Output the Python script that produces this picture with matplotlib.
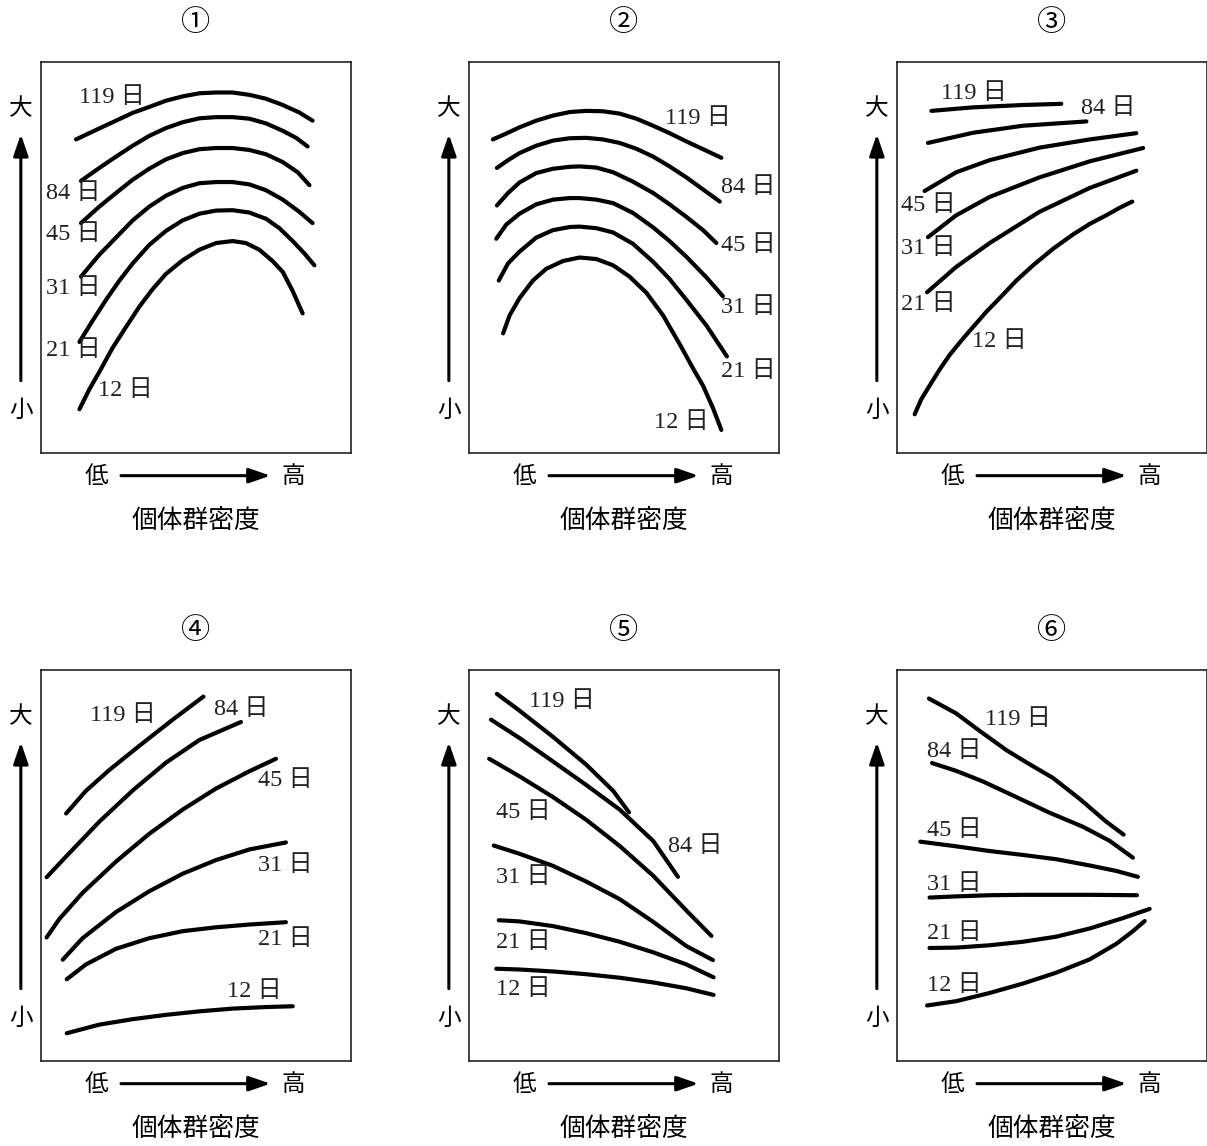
import numpy as np
import matplotlib
matplotlib.use('Agg')
import matplotlib.pyplot as plt

# =============================================================================
# Data (density 0-100 on x, size 0-100 on y)
# =============================================================================
days = ['119', '84', '45', '31', '21', '12']
panel_marks = ['①', '②', '③', '④', '⑤', '⑥']

# ① growth peaks at middle density
p1_x = [[11.3, 17.7, 24.2, 29.6, 34.9, 40.3, 45.7, 51.1, 56.5, 61.8, 67.2, 72.6, 78.0, 83.3, 87.6],
        [12.9, 18.8, 24.2, 29.6, 34.9, 40.3, 45.7, 51.1, 56.5, 61.8, 67.2, 72.6, 78.0, 82.3, 86.0],
        [12.9, 18.8, 24.2, 29.6, 34.9, 40.3, 45.7, 51.1, 56.5, 61.8, 67.2, 72.6, 78.0, 82.8, 86.6],
        [12.9, 18.8, 24.2, 29.6, 34.9, 40.3, 45.7, 51.1, 56.5, 61.8, 67.2, 72.6, 78.0, 83.3, 87.6],
        [12.4, 16.7, 21.0, 25.3, 29.6, 34.9, 40.3, 45.7, 51.1, 56.5, 61.8, 67.2, 72.6, 76.9, 81.2, 84.9, 88.2],
        [12.4, 15.6, 18.8, 23.1, 27.4, 31.7, 36.0, 40.3, 45.7, 51.1, 56.5, 61.8, 66.1, 70.4, 74.7, 78.0, 81.2, 84.4]]
p1_y = [[80.2, 82.6, 85.0, 87.0, 88.5, 90.1, 91.2, 92.0, 92.2, 92.2, 91.6, 90.6, 89.0, 87.1, 85.0],
        [69.6, 72.9, 75.8, 78.6, 81.1, 83.1, 84.6, 85.6, 85.9, 85.9, 85.5, 84.3, 82.4, 80.6, 78.4],
        [58.8, 63.0, 66.5, 69.9, 72.7, 75.1, 76.7, 77.7, 78.0, 78.0, 77.5, 76.4, 74.4, 71.8, 68.5],
        [45.1, 50.7, 55.1, 59.5, 63.0, 65.8, 67.8, 69.0, 69.3, 69.3, 68.7, 67.2, 64.8, 61.7, 58.8],
        [28.4, 33.9, 39.2, 44.1, 48.5, 53.2, 56.8, 59.5, 61.2, 62.0, 62.1, 61.5, 59.9, 57.5, 54.2, 51.1, 48.0],
        [11.2, 16.3, 20.7, 26.9, 32.2, 37.4, 41.9, 45.8, 49.3, 52.0, 53.7, 54.2, 53.7, 52.0, 49.1, 46.3, 41.4, 35.7]]
p1_lab = [(22.8, 91.0), (10.4, 66.3), (10.4, 55.8), (10.4, 42.1), (10.4, 26.3), (27.1, 16.1)]

# ②
p2_x = [[7.7, 12.0, 16.3, 21.7, 27.1, 32.5, 37.8, 43.2, 48.6, 54.0, 59.4, 64.7, 70.1, 75.5, 81.4],
        [9.0, 12.6, 16.3, 21.7, 27.1, 32.5, 37.8, 43.2, 48.6, 54.0, 59.4, 64.7, 70.1, 75.5, 80.9],
        [9.0, 12.6, 16.3, 21.7, 27.1, 32.5, 35.7, 41.1, 46.5, 52.9, 59.4, 64.7, 70.1, 75.5, 79.8],
        [8.8, 12.0, 16.3, 21.7, 27.1, 32.5, 35.7, 41.1, 46.5, 52.9, 59.4, 64.7, 70.1, 76.6, 81.9],
        [9.6, 12.6, 16.3, 21.7, 27.1, 32.5, 35.7, 41.1, 46.5, 52.9, 59.4, 64.7, 70.1, 76.6, 83.2],
        [11.0, 13.1, 16.3, 20.6, 24.9, 30.3, 35.7, 41.1, 46.5, 51.8, 57.2, 62.6, 68.0, 72.3, 75.5, 78.7, 81.4]]
p2_y = [[80.2, 81.7, 83.3, 85.0, 86.3, 87.2, 87.5, 87.4, 86.8, 85.5, 83.7, 81.8, 79.7, 77.7, 75.5],
        [72.9, 74.9, 76.7, 78.6, 79.9, 80.5, 80.6, 80.2, 79.3, 77.8, 75.8, 73.3, 70.5, 67.4, 64.3],
        [63.3, 66.5, 69.2, 71.6, 72.7, 73.2, 73.3, 73.0, 71.8, 69.4, 66.5, 63.6, 60.4, 57.0, 53.7],
        [54.8, 58.4, 61.2, 63.6, 64.8, 65.2, 65.2, 64.8, 63.9, 61.4, 57.7, 54.2, 50.2, 44.9, 40.1],
        [44.1, 48.5, 51.5, 55.1, 57.0, 57.8, 57.9, 57.5, 56.4, 53.5, 48.9, 44.5, 39.2, 32.6, 24.7],
        [30.6, 35.2, 39.6, 44.1, 47.1, 49.1, 50.0, 49.6, 48.0, 45.1, 41.0, 35.2, 27.8, 21.6, 17.2, 11.5, 5.9]]
p2_lab = [(73.9, 85.5), (90.0, 67.8), (90.0, 53.1), (90.0, 37.2), (90.0, 20.9), (68.5, 7.7)]

# ③
p3_x = [[11.1, 24.5, 40.6, 53.0],
        [10.0, 24.5, 40.6, 61.1],
        [8.9, 19.1, 29.9, 46.0, 62.2, 77.2],
        [10.0, 19.1, 29.9, 46.0, 62.2, 79.4],
        [9.7, 19.1, 29.9, 46.0, 62.2, 77.2],
        [5.7, 7.8, 10.5, 13.8, 17.0, 20.8, 24.5, 28.8, 33.1, 38.5, 43.9, 50.3, 56.8, 62.2, 67.5, 71.8, 75.9]]
p3_y = [[87.5, 88.4, 89.0, 89.3],
        [79.3, 81.9, 83.7, 84.8],
        [67.0, 71.8, 74.9, 78.1, 80.2, 81.8],
        [55.2, 60.8, 65.5, 70.5, 74.6, 78.0],
        [41.1, 47.6, 53.7, 61.7, 67.8, 72.2],
        [9.9, 13.7, 17.2, 21.4, 25.1, 28.8, 32.2, 36.1, 39.6, 44.1, 48.0, 52.2, 55.9, 58.6, 60.8, 62.7, 64.3]]
p3_lab = [(24.7, 91.9), (68.1, 88.1), (10.2, 63.2), (10.2, 52.2), (10.2, 37.9), (33.1, 28.6)]

# ④
p4_x = [[8.1, 14.5, 22.0, 31.7, 42.5, 52.4],
        [1.8, 8.1, 18.8, 29.6, 40.3, 51.1, 64.5],
        [1.8, 5.9, 13.4, 24.2, 34.9, 45.7, 56.5, 67.2, 75.8],
        [7.0, 13.4, 24.2, 34.9, 45.7, 56.5, 67.2, 79.0],
        [8.3, 14.5, 24.2, 34.9, 45.7, 56.5, 67.2, 79.0],
        [8.3, 18.8, 29.6, 40.3, 51.1, 61.8, 72.6, 81.2]]
p4_y = [[63.3, 69.1, 74.4, 80.6, 87.3, 93.2],
        [47.0, 52.3, 61.2, 69.2, 76.3, 82.1, 86.7],
        [31.6, 36.3, 43.0, 51.0, 58.1, 64.3, 69.7, 74.1, 77.3],
        [25.9, 31.4, 38.1, 43.4, 47.9, 51.4, 54.1, 55.9],
        [20.9, 24.7, 28.7, 31.4, 33.2, 34.2, 34.9, 35.5],
        [7.1, 9.3, 10.7, 11.8, 12.7, 13.4, 13.8, 14.0]]
p4_lab = [(26.3, 88.4), (64.5, 89.8), (78.7, 71.7), (78.7, 50.1), (78.7, 31.2), (68.8, 17.8)]

# ⑤
p5_x = [[9.0, 16.3, 27.1, 37.8, 46.5, 51.6],
        [7.1, 16.3, 27.1, 37.8, 48.6, 59.4, 67.4],
        [6.5, 16.3, 27.1, 37.8, 48.6, 59.4, 70.1, 78.2],
        [8.0, 16.3, 27.1, 37.8, 48.6, 59.4, 70.1, 78.7],
        [9.6, 16.3, 27.1, 37.8, 48.6, 59.4, 70.1, 78.9],
        [8.8, 16.3, 27.1, 37.8, 48.6, 59.4, 70.1, 78.9]]
p5_y = [[93.9, 89.6, 82.9, 75.8, 69.1, 63.6],
        [87.3, 82.6, 76.6, 70.6, 64.3, 56.3, 47.1],
        [77.3, 72.8, 67.5, 61.7, 55.0, 47.4, 38.5, 32.0],
        [55.1, 53.0, 49.9, 45.9, 41.4, 35.6, 29.4, 25.8],
        [36.0, 35.7, 34.5, 32.7, 30.5, 27.8, 24.7, 21.4],
        [23.6, 23.4, 22.9, 22.2, 21.3, 20.1, 18.6, 16.9]]
p5_lab = [(30.1, 92.0), (73.1, 54.8), (17.4, 63.6), (17.4, 46.9), (17.4, 30.2), (17.4, 18.3)]

# ⑥
p6_x = [[10.3, 19.1, 26.7, 35.3, 41.7, 50.3, 59.0, 67.5, 73.1],
        [11.3, 19.1, 27.7, 38.5, 49.2, 60.0, 68.6, 76.1],
        [7.5, 19.1, 29.9, 40.6, 51.4, 62.2, 70.8, 77.7],
        [10.5, 19.1, 29.9, 40.6, 51.4, 62.2, 77.4],
        [10.5, 19.1, 29.9, 40.6, 51.4, 62.2, 73.1, 81.5],
        [9.7, 19.1, 29.9, 40.6, 51.4, 62.2, 70.8, 76.1, 79.9]]
p6_y = [[92.7, 88.9, 84.4, 79.5, 76.4, 72.4, 67.0, 61.2, 57.9],
        [76.2, 74.2, 71.5, 67.5, 63.5, 59.9, 56.3, 52.0],
        [56.1, 54.9, 53.7, 52.7, 51.6, 50.0, 48.6, 47.1],
        [41.8, 42.1, 42.4, 42.5, 42.5, 42.5, 42.4],
        [28.9, 29.0, 29.6, 30.5, 31.8, 33.9, 36.6, 38.9],
        [14.2, 15.3, 17.4, 19.8, 22.6, 26.0, 30.0, 33.2, 35.8]]
p6_lab = [(39.0, 87.3), (18.4, 79.1), (18.4, 59.0), (18.4, 45.2), (18.4, 32.5), (18.4, 19.3)]

panels_x = [p1_x, p2_x, p3_x, p4_x, p5_x, p6_x]
panels_y = [p1_y, p2_y, p3_y, p4_y, p5_y, p6_y]
panels_lab = [p1_lab, p2_lab, p3_lab, p4_lab, p5_lab, p6_lab]

# =============================================================================
# Layout (pixels of the 1207x1146 canvas)
# =============================================================================
W, H = 1207, 1146
col_left = [41, 469, 897]
row_top = [62, 670]
box_w, box_h = 310, 391

num_font = ['Liberation Serif', 'Noto Sans CJK JP']
jp_font = ['Noto Sans CJK JP', 'DejaVu Sans']

fig = plt.figure(figsize=(W / 100, H / 100), dpi=100)
fig.patch.set_facecolor('white')

for k in range(6):
    r, c = divmod(k, 3)
    ax = fig.add_axes([col_left[c] / W, 1 - (row_top[r] + box_h) / H, box_w / W, box_h / H])
    ax.set_xlim(0, 100)
    ax.set_ylim(0, 100)
    ax.set_xticks([])
    ax.set_yticks([])
    for sp in ax.spines.values():
        sp.set_linewidth(1.2)
        sp.set_color('#222222')

    for xs, ys in zip(panels_x[k], panels_y[k]):
        ax.plot(xs, ys, color='black', lw=3.0, solid_capstyle='round', solid_joinstyle='round')

    for d, (lx, ly) in zip(days, panels_lab[k]):
        ax.text(lx, ly, d + ' 日', family=num_font, fontsize=17.5, ha='center', va='center',
                color='#222222')

    # panel number
    ax.text(50, 110, panel_marks[k], family=jp_font, fontsize=21, ha='center', va='center',
            clip_on=False)

    # vertical axis: 小 -> 大
    ax.text(-6.5, 88, '大', family=jp_font, fontsize=17, ha='center', va='center', clip_on=False)
    ax.text(-6.5, 10.8, '小', family=jp_font, fontsize=17, ha='center', va='center', clip_on=False)
    ax.annotate('', xy=(-6.5, 81.5), xytext=(-6.5, 18.5), annotation_clip=False,
                arrowprops=dict(arrowstyle='-|>,head_length=1.3,head_width=0.45',
                                lw=2.2, color='black', shrinkA=0, shrinkB=0))

    # horizontal axis: 低 -> 高
    ax.text(18, -6, '低', family=jp_font, fontsize=17, ha='center', va='center', clip_on=False)
    ax.text(81.5, -6, '高', family=jp_font, fontsize=17, ha='center', va='center', clip_on=False)
    ax.annotate('', xy=(74, -5.8), xytext=(25.8, -5.8), annotation_clip=False,
                arrowprops=dict(arrowstyle='-|>,head_length=1.3,head_width=0.45',
                                lw=2.2, color='black', shrinkA=0, shrinkB=0))
    ax.text(50, -17.4, '個体群密度', family=jp_font, fontsize=18.5, ha='center', va='center',
            clip_on=False)

plt.savefig('out.png', dpi=100, facecolor='white')
plt.close('all')
